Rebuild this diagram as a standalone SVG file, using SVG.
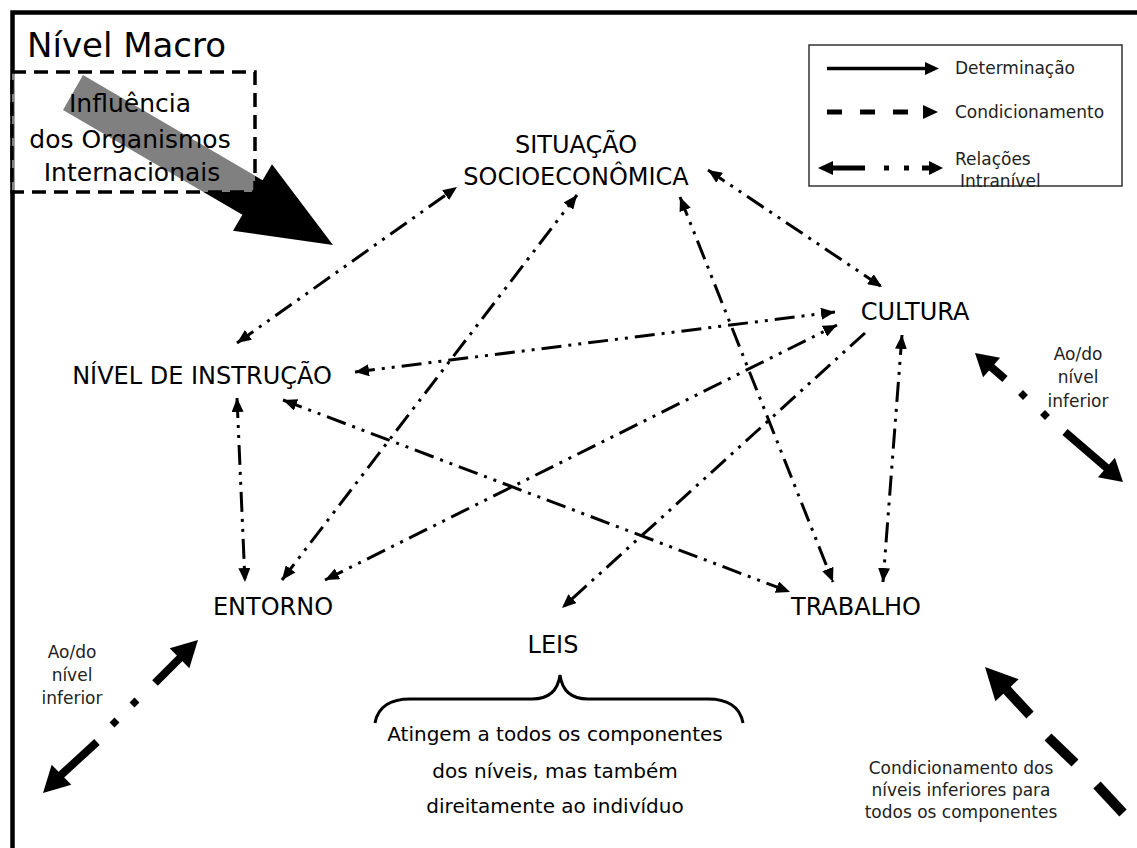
<svg xmlns="http://www.w3.org/2000/svg" width="1137" height="848" viewBox="0 0 1137 848">
<style>
.node{font-family:"DejaVu Sans","Liberation Sans",sans-serif;font-size:24px;fill:#000;text-anchor:middle}
.small{font-family:"DejaVu Sans","Liberation Sans",sans-serif;font-size:17px;fill:#222}
.mid{text-anchor:middle}
.conn{fill:none;stroke:#000;stroke-width:3;stroke-dasharray:20 7 3 7 3 7}
.thick{stroke:#000;fill:none}
</style>
<defs>
<marker id="ah" viewBox="0 0 14 12" refX="14" refY="6" markerWidth="14" markerHeight="12" markerUnits="userSpaceOnUse" orient="auto-start-reverse"><path d="M0,0 L14,6 L0,12 z" fill="#000"/></marker>
</defs>
<rect width="1137" height="848" fill="#fff"/>
<path d="M12.5,848 L12.5,12.5 L1137,12.5" fill="none" stroke="#000" stroke-width="4.5"/>
<text x="27" y="57" font-family="DejaVu Sans, sans-serif" font-size="34" fill="#000">Nível Macro</text>
<g id="influencia">
<polygon points="83,75 262.6,180.2 272,164.3 333,245 233,230.7 242.4,214.8 63,110" fill="#000"/>
<rect x="12" y="72" width="243" height="120" fill="#fff" fill-opacity="0.5" stroke="#000" stroke-width="3.5" stroke-dasharray="14 8"/>
<text x="130" y="112" font-family="DejaVu Sans, sans-serif" font-size="25" fill="#000" text-anchor="middle">Influência</text>
<text x="130" y="148" font-family="DejaVu Sans, sans-serif" font-size="25" fill="#000" text-anchor="middle">dos Organismos</text>
<text x="132" y="181" font-family="DejaVu Sans, sans-serif" font-size="25" fill="#000" text-anchor="middle">Internacionais</text>
</g>
<g id="legend">
<rect x="809" y="45" width="313" height="141" fill="#fff" stroke="#333" stroke-width="1.5"/>
<line x1="827" y1="68.5" x2="926" y2="68.5" stroke="#000" stroke-width="3.5"/>
<polygon points="925,62 939,68.5 925,75" fill="#000"/>
<text class="small" x="955" y="74">Determinação</text>
<line x1="827" y1="112" x2="923" y2="112" stroke="#000" stroke-width="5" stroke-dasharray="15 18"/>
<polygon points="923,105 938,112 923,119" fill="#000"/>
<text class="small" x="955" y="118">Condicionamento</text>
<polygon points="818,168 833,161 833,175" fill="#000"/>
<line x1="832" y1="168" x2="865" y2="168" stroke="#000" stroke-width="5"/>
<rect x="884" y="165.5" width="5" height="5" fill="#000"/>
<rect x="904" y="165.5" width="5" height="5" fill="#000"/>
<line x1="922" y1="168" x2="930" y2="168" stroke="#000" stroke-width="5"/>
<polygon points="943,168 929,161 929,175" fill="#000"/>
<text class="small" x="955" y="165">Relações</text>
<text class="small" x="960" y="187">Intranível</text>
</g>
<g id="connectors">
<path class="conn" d="M237,343 L457,187" marker-start="url(#ah)" marker-end="url(#ah)"/>
<path class="conn" d="M708,170 L882,287" marker-start="url(#ah)" marker-end="url(#ah)"/>
<path class="conn" d="M355,372 L835,312" marker-start="url(#ah)" marker-end="url(#ah)"/>
<path class="conn" d="M325,580 L837,325" marker-start="url(#ah)" marker-end="url(#ah)"/>
<path class="conn" d="M282,580 L577,195" marker-start="url(#ah)" marker-end="url(#ah)"/>
<path class="conn" d="M237,398 L245,582" marker-start="url(#ah)" marker-end="url(#ah)"/>
<path class="conn" d="M283,400 L790,592" marker-start="url(#ah)" marker-end="url(#ah)"/>
<path class="conn" d="M680,197 L833,582" marker-start="url(#ah)" marker-end="url(#ah)"/>
<path class="conn" d="M865,333 L562,608" marker-end="url(#ah)"/>
<path class="conn" d="M902,335 L883,582" marker-start="url(#ah)" marker-end="url(#ah)"/>
</g>
<g id="situacao">
<text class="node" x="576" y="153">SITUAÇÃO</text>
<text class="node" x="576" y="185">SOCIOECONÔMICA</text>
</g>
<g id="cultura"><text class="node" x="915" y="320">CULTURA</text></g>
<g id="nivel-instrucao"><text class="node" x="202" y="384">NÍVEL DE INSTRUÇÃO</text></g>
<g id="entorno"><text class="node" x="273" y="615">ENTORNO</text></g>
<g id="trabalho"><text class="node" x="856" y="615">TRABALHO</text></g>
<g id="leis">
<text class="node" x="553" y="653">LEIS</text>
<path d="M375,723 C378,706 392,699 410,699 L532,699 C549,699 558,690 560,675 C562,690 571,699 588,699 L708,699 C726,699 740,706 743,723" fill="none" stroke="#000" stroke-width="3"/>
<text x="555" y="741" font-family="DejaVu Sans, sans-serif" font-size="20" fill="#000" text-anchor="middle">Atingem a todos os componentes</text>
<text x="555" y="778" font-family="DejaVu Sans, sans-serif" font-size="20" fill="#000" text-anchor="middle">dos níveis, mas também</text>
<text x="555" y="813" font-family="DejaVu Sans, sans-serif" font-size="20" fill="#000" text-anchor="middle">direitamente ao indivíduo</text>
</g>
<g id="nivel-inferior-esq">
<polygon points="198,640 189.3,668.3 169.7,648.3" fill="#000"/>
<line x1="180" y1="658" x2="155" y2="683" stroke="#000" stroke-width="8"/>
<rect x="131" y="699" width="7" height="7" transform="rotate(45 134.5 702.5)" fill="#000"/>
<rect x="111" y="719" width="7" height="7" transform="rotate(45 114.5 722.5)" fill="#000"/>
<line x1="97" y1="742" x2="61" y2="775" stroke="#000" stroke-width="8"/>
<polygon points="43,793 71.3,784.7 51.7,764.7" fill="#000"/>
<text class="small mid" x="72" y="658">Ao/do</text>
<text class="small mid" x="72" y="681">nível</text>
<text class="small mid" x="72" y="704">inferior</text>
</g>
<g id="nivel-inferior-dir">
<polygon points="975,353 983.1,377.3 1000.1,357.7" fill="#000"/>
<line x1="990" y1="366" x2="1005" y2="379" stroke="#000" stroke-width="8"/>
<rect x="1019.5" y="391.5" width="7" height="7" transform="rotate(45 1023 395)" fill="#000"/>
<rect x="1041.5" y="411.5" width="7" height="7" transform="rotate(45 1045 415)" fill="#000"/>
<line x1="1065" y1="432" x2="1108" y2="469" stroke="#000" stroke-width="8"/>
<polygon points="1123,482 1097.9,477.3 1114.9,457.7" fill="#000"/>
<text class="small mid" x="1078" y="360">Ao/do</text>
<text class="small mid" x="1078" y="383">nível</text>
<text class="small mid" x="1078" y="407">inferior</text>
</g>
<g id="condicionamento-inferior">
<polygon points="985,667 1018.6,679.3 995.4,701.3" fill="#000"/>
<line x1="1005" y1="688" x2="1030" y2="715" stroke="#000" stroke-width="10"/>
<line x1="1048" y1="737" x2="1075" y2="763" stroke="#000" stroke-width="10"/>
<line x1="1097" y1="785" x2="1123" y2="813" stroke="#000" stroke-width="10"/>
<text class="small mid" x="961" y="774">Condicionamento dos</text>
<text class="small mid" x="961" y="796">níveis inferiores para</text>
<text class="small mid" x="961" y="818">todos os componentes</text>
</g>
</svg>
